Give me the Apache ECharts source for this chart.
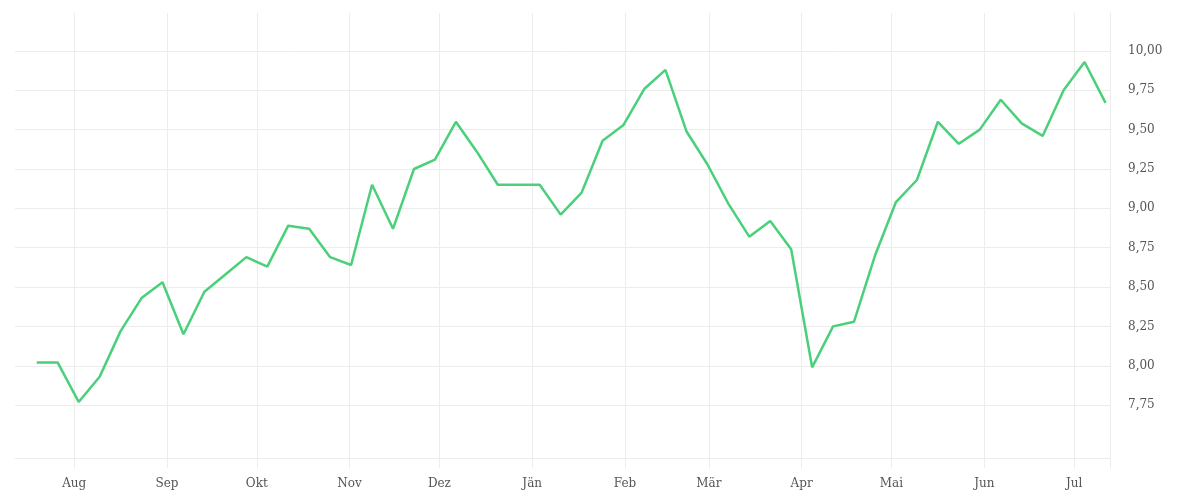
<!DOCTYPE html>
<html>
<head>
<meta charset="utf-8">
<script src="https://cdn.jsdelivr.net/npm/echarts@6/dist/echarts.min.js"></script>
<style>
  html, body { margin: 0; padding: 0; background: #fff; }
  #chart { width: 1200px; height: 500px; }
</style>
</head>
<body>
<div id="chart"></div>
<script>
// Weekly observation dates
var dates = [
  '2022-07-19','2022-07-26','2022-08-02','2022-08-09','2022-08-16','2022-08-23','2022-08-30',
  '2022-09-06','2022-09-13','2022-09-20','2022-09-27','2022-10-04','2022-10-11','2022-10-18',
  '2022-10-25','2022-11-01','2022-11-08','2022-11-15','2022-11-22','2022-11-29','2022-12-06',
  '2022-12-13','2022-12-20','2022-12-27','2023-01-03','2023-01-10','2023-01-17','2023-01-24',
  '2023-01-31','2023-02-07','2023-02-14','2023-02-21','2023-02-28','2023-03-07','2023-03-14',
  '2023-03-21','2023-03-28','2023-04-04','2023-04-11','2023-04-18','2023-04-25','2023-05-02',
  '2023-05-09','2023-05-16','2023-05-23','2023-05-30','2023-06-06','2023-06-13','2023-06-20',
  '2023-06-27','2023-07-04','2023-07-11'
];
// Series values
var values = [
  8.02, 8.02, 7.77, 7.93, 8.22, 8.43, 8.53, 8.20, 8.47, 8.58, 8.69, 8.63, 8.89,
  8.87, 8.69, 8.64, 9.15, 8.87, 9.25, 9.31, 9.55, 9.36, 9.15, 9.15, 9.15, 8.96,
  9.10, 9.43, 9.53, 9.76, 9.88, 9.49, 9.28, 9.03, 8.82, 8.92, 8.74, 7.99, 8.25,
  8.28, 8.70, 9.04, 9.18, 9.55, 9.41, 9.50, 9.69, 9.54, 9.46, 9.75, 9.93, 9.67
];
// X tick positions (month starts) and labels
var monthStarts = ['2022-08-01','2022-09-01','2022-10-01','2022-11-01','2022-12-01','2023-01-01',
                   '2023-02-01','2023-03-01','2023-04-01','2023-05-01','2023-06-01','2023-07-01'];
var monthLabels = ['Aug','Sep','Okt','Nov','Dez','Jän','Feb','Mär','Apr','Mai','Jun','Jul'];
// Y tick values
var yTicks = [7.75, 8.00, 8.25, 8.50, 8.75, 9.00, 9.25, 9.50, 9.75, 10.00];

function toTime(s, hour) {
  var p = s.split('-');
  return new Date(+p[0], +p[1] - 1, +p[2], hour || 0).getTime();
}
var xMin = new Date(2022, 6, 12, 5, 30).getTime();
var xMax = new Date(2023, 6, 13, 0, 0).getTime();
var monthTimes = monthStarts.map(function (s) { return toTime(s, 0); });
var labelByTime = {};
monthTimes.forEach(function (t, i) { labelByTime[t] = monthLabels[i]; });
var seriesData = dates.map(function (d, i) { return [toTime(d, 12), values[i]]; });

var gridColor = '#ececec';
var chart = echarts.init(document.getElementById('chart'));
chart.setOption({
  animation: false,
  grid: { left: 15, right: 90, top: 13, bottom: 42, containLabel: false, outerBoundsMode: 'none' },
  xAxis: {
    type: 'value',
    scale: true,
    min: xMin,
    max: xMax,
    axisLine: { show: true, lineStyle: { color: gridColor, width: 1 } },
    axisTick: { show: true, length: 10, customValues: monthTimes.concat([xMax]), lineStyle: { color: gridColor } },
    splitLine: { show: true, lineStyle: { color: gridColor, width: 1 } },
    axisLabel: {
      customValues: monthTimes,
      margin: 20,
      color: '#555',
      fontFamily: 'DejaVu Serif',
      fontSize: 12,
      formatter: function (v) { return labelByTime[v] || ''; }
    }
  },
  yAxis: {
    type: 'value',
    position: 'right',
    min: 7.414,
    max: 10.241,
    axisLine: { show: true, lineStyle: { color: gridColor, width: 1 } },
    axisTick: { show: false, customValues: yTicks },
    splitLine: { show: true, lineStyle: { color: gridColor, width: 1 } },
    axisLabel: {
      customValues: yTicks,
      margin: 18,
      color: '#555',
      fontFamily: 'DejaVu Serif',
      fontSize: 12,
      formatter: function (v) { return v.toFixed(2).replace('.', ','); }
    }
  },
  series: [{
    type: 'line',
    data: seriesData,
    showSymbol: false,
    symbol: 'none',
    lineStyle: { color: '#4ad07a', width: 2.5 },
    itemStyle: { color: '#4ad07a' }
  }]
});
</script>
</body>
</html>
